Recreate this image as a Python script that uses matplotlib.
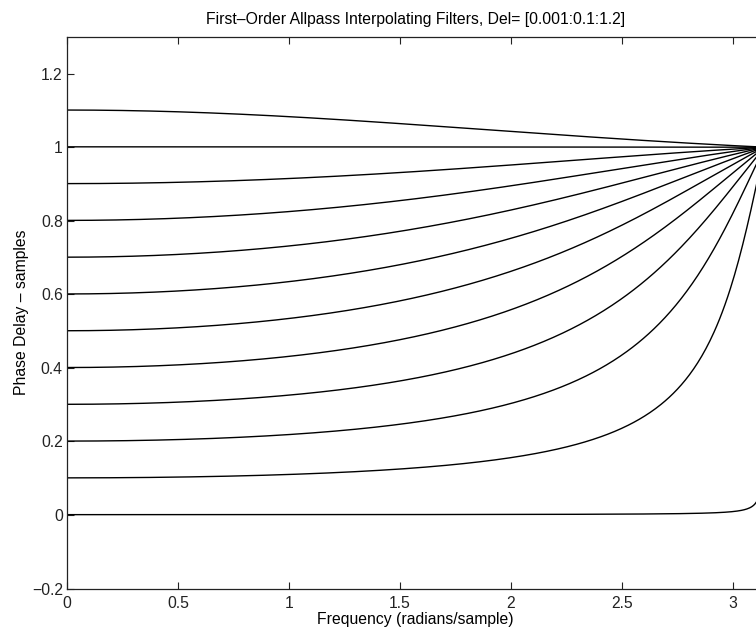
"""First-order allpass interpolator: phase delay vs. frequency."""

import matplotlib

matplotlib.use("Agg")
import matplotlib.pyplot as plt
import numpy as np

plt.rcParams["font.family"] = ["Liberation Sans", "DejaVu Sans"]

# desired delays, from the title: Del = [0.001:0.1:1.2]
DELAYS = [0.001, 0.101, 0.201, 0.301, 0.401, 0.501, 0.601, 0.701, 0.801, 0.901, 1.001, 1.101]
N_FREQ = 512  # freqz default grid, w in [0, pi)

X_TICKS = [0, 0.5, 1, 1.5, 2, 2.5, 3]
X_TICK_LABELS = ["0", "0.5", "1", "1.5", "2", "2.5", "3"]
Y_TICKS = [-0.2, 0, 0.2, 0.4, 0.6, 0.8, 1, 1.2]
Y_TICK_LABELS = ["\u22120.2", "0", "0.2", "0.4", "0.6", "0.8", "1", "1.2"]

FS = 11.3


def phase_delay(delay, w):
    # H(z) = (eta + z^-1) / (1 + eta z^-1)
    eta = (1 - delay) / (1 + delay)
    z1 = np.exp(-1j * w)
    h = (eta + z1) / (1 + eta * z1)
    pd = np.empty_like(w)
    pd[0] = (1 - eta) / (1 + eta)
    pd[1:] = -np.unwrap(np.angle(h))[1:] / w[1:]
    return pd


w = np.pi * np.arange(N_FREQ) / N_FREQ

fig = plt.figure(figsize=(7.56, 6.32), dpi=100)
ax = fig.add_axes([0.0886, 0.0687, 0.9226, 0.873])

for d in DELAYS:
    ax.plot(w, phase_delay(d, w), color="black", linewidth=1.0)

ax.set_xlim(0, np.pi)
ax.set_ylim(-0.2, 1.3)
ax.set_xticks(X_TICKS)
ax.set_xticklabels(X_TICK_LABELS)
ax.set_yticks(Y_TICKS)
ax.set_yticklabels(Y_TICK_LABELS)
ax.tick_params(direction="in", length=5, width=0.8, top=True, right=True,
               labelsize=FS, colors="#222222")
ax.tick_params(axis="y", pad=3)
ax.tick_params(axis="x", pad=5)
for s in ax.spines.values():
    s.set_linewidth(0.9)
    s.set_color("#222222")

ax.set_xlabel("Frequency (radians/sample)", fontsize=FS, labelpad=1)
ax.set_ylabel("Phase Delay \u2013 samples", fontsize=FS, labelpad=2)
ax.set_title("First\u2013Order Allpass Interpolating Filters, Del= [0.001:0.1:1.2]",
             fontsize=FS, pad=9)

fig.savefig("out.png", dpi=100)
